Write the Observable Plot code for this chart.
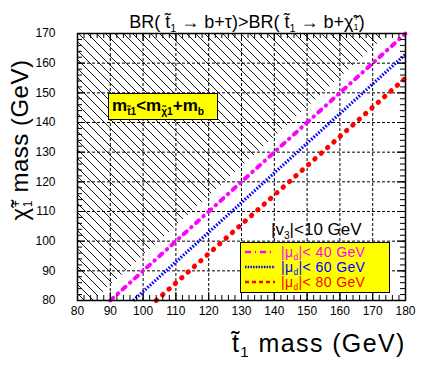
<!DOCTYPE html>
<html>
<head>
<meta charset="utf-8">
<script src="https://cdn.jsdelivr.net/npm/d3@7"></script>
<script src="https://cdn.jsdelivr.net/npm/@observablehq/plot@0.6"></script>
<style>
  html, body { margin: 0; padding: 0; background: #fff; }
  #wrap { position: relative; width: 432px; height: 382px; font-family: "Liberation Sans", Arial, sans-serif; }
  #wrap svg { position: absolute; left: 0; top: 0; }
  .ov { position: absolute; white-space: nowrap; color: #000; }
  .box { background: #ffff00; border: 1.5px solid #000; box-sizing: border-box; }
  .st { display: inline-block; vertical-align: middle; line-height: 1; text-align: left; }
  .st span { display: block; font-size: 0.5em; line-height: 1; }
  .sb { font-size: 0.6em; position: relative; top: 0.35em; line-height: 0; }
</style>
</head>
<body>
<div id="wrap"></div>
<script>
// ---- data ----
const xTicks = [80, 90, 100, 110, 120, 130, 140, 150, 160, 170, 180];
const yTicks = [80, 90, 100, 110, 120, 130, 140, 150, 160, 170];
// excluded region m_t1 < m_chi1 + m_b (boundary)
const hatchX = [80, 85, 175];
const hatchY = [80, 80, 170];
const hatchTop = 170;
// limit lines
const seriesNames = ["|μd| < 40 GeV", "|μd| < 60 GeV", "|μd| < 80 GeV"];
const seriesLimits = ["40", "60", "80"];
const seriesColors = ["#ff00ff", "#0000ff", "#ff0000"];
const lineX1 = [90, 97, 104];
const lineY1 = [80, 80, 80];
const lineX2 = [180, 180, 180];
const lineY2 = [170, 163, 155];
const seriesDash = ["4,6,0.5,6", "1.6,1.6", "0.5,8"];
const seriesCap = ["round", "butt", "round"];
const seriesWidth = [4, 3.2, 5];

const hatch = hatchX.map((x, i) => ({x, y1: hatchY[i], y2: hatchTop}));
const lines = seriesNames.map((name, i) => ({name, x1: lineX1[i], y1: lineY1[i], x2: lineX2[i], y2: lineY2[i]}));

const W = 432, H = 382, mL = 77, mR = 27, mT = 33, mB = 82;
const fw = W - mL - mR, fh = H - mT - mB;
const minorX = d3.range(80, 181, 2), minorY = d3.range(80, 171, 2);
const innerX = xTicks.slice(1, -1), innerY = yTicks.slice(1, -1);

const svg = Plot.plot({
  width: W, height: H,
  marginLeft: mL, marginRight: mR, marginTop: mT, marginBottom: mB,
  style: {fontFamily: "Liberation Sans, Arial, sans-serif", background: "white"},
  x: {domain: [80, 180], axis: null},
  y: {domain: [80, 170], axis: null},
  marks: [
    Plot.areaY(hatch, {x: "x", y1: "y1", y2: "y2", fill: "url(#hatch)"}),
    Plot.ruleX(innerX, {stroke: "#000", strokeWidth: 1, strokeDasharray: "3,2"}),
    Plot.ruleY(innerY, {stroke: "#000", strokeWidth: 1, strokeDasharray: "3,2"}),
    ...lines.map((d, i) => Plot.link([d], {x1: "x1", y1: "y1", x2: "x2", y2: "y2", stroke: seriesColors[i], strokeWidth: seriesWidth[i], strokeDasharray: seriesDash[i], strokeLinecap: seriesCap[i]})),
    // inward ticks
    Plot.tickX(minorX, {x: d => d, insetTop: fh - 5, stroke: "#000"}),
    Plot.tickX(minorX, {x: d => d, insetBottom: fh - 5, stroke: "#000"}),
    Plot.tickX(xTicks, {x: d => d, insetTop: fh - 8, stroke: "#000"}),
    Plot.tickX(xTicks, {x: d => d, insetBottom: fh - 8, stroke: "#000"}),
    Plot.tickY(minorY, {y: d => d, insetRight: fw - 5, stroke: "#000"}),
    Plot.tickY(minorY, {y: d => d, insetLeft: fw - 5, stroke: "#000"}),
    Plot.tickY(yTicks, {y: d => d, insetRight: fw - 8, stroke: "#000"}),
    Plot.tickY(yTicks, {y: d => d, insetLeft: fw - 8, stroke: "#000"}),
    Plot.frame({stroke: "#000", strokeWidth: 1.5}),
    Plot.axisX(xTicks, {tickSize: 0, tickPadding: 6, fontSize: 12, label: null, tickFormat: d => String(d)}),
    Plot.axisY(yTicks, {tickSize: 0, tickPadding: 22, fontSize: 12, label: null, tickFormat: d => String(d)})
  ]
});

// hatch pattern
const ns = "http://www.w3.org/2000/svg";
const defs = document.createElementNS(ns, "defs");
const pat = document.createElementNS(ns, "pattern");
pat.setAttribute("id", "hatch");
pat.setAttribute("patternUnits", "userSpaceOnUse");
pat.setAttribute("width", "9");
pat.setAttribute("height", "9");
const p = document.createElementNS(ns, "path");
p.setAttribute("d", "M-1,-1L10,10M-1,8L1,10M8,-1L10,1");
p.setAttribute("stroke", "#000");
p.setAttribute("stroke-width", "0.9");
pat.appendChild(p);
defs.appendChild(pat);
svg.insertBefore(defs, svg.firstChild);

const wrap = document.getElementById("wrap");
wrap.appendChild(svg);

function ov(html, css, cls = "ov") {
  const d = document.createElement("div");
  d.className = cls;
  d.innerHTML = html;
  Object.assign(d.style, css);
  wrap.appendChild(d);
  return d;
}
const sub = s => `<span class="sb">${s}</span>`;

// title
ov(`BR( t̃${sub("1")} → b+τ)&gt;BR( t̃${sub("1")} → b+χ̃<span class="st"><span>+</span><span>1</span></span>)`,
   {left: "247px", top: "12px", transform: "translateX(-50%)", fontSize: "18px", lineHeight: "20px"});

// x label
ov(`t̃${sub("1")} mass (GeV)`,
   {left: "232px", top: "329px", fontSize: "25px", lineHeight: "28px", letterSpacing: "1.4px"});

// y label
ov(`χ̃<span class="st"><span>+</span><span>1</span></span> mass (GeV)`,
   {left: "20px", top: "140px", transform: "translate(-50%,-50%) rotate(-90deg)", fontSize: "24px", lineHeight: "28px", letterSpacing: "0.5px"});

// excluded region box
ov(`m${sub("t̃1")}&lt;m${sub("χ̃1")}+m${sub("b")}`,
   {left: "108px", top: "93px", width: "110px", height: "27px", fontSize: "17px", fontWeight: "bold", lineHeight: "24px", paddingLeft: "3px"},
   "ov box");

// |v3| text
ov(`|v${sub("3")}|&lt;10 GeV`, {left: "271px", top: "220px", fontSize: "17px", lineHeight: "20px"});

// legend
const leg = ov("", {left: "240px", top: "242px", width: "150px", height: "51px"}, "ov box");
const legDash = ["6,4,1,4", "1.5,1.2", "4,3"];
seriesNames.forEach((name, i) => {
  const row = document.createElement("div");
  Object.assign(row.style, {position: "absolute", left: "0px", top: (2 + i * 15) + "px", height: "14px", width: "148px"});
  row.innerHTML = `<svg width="34" height="14" style="position:absolute;left:2px;top:0"><line x1="2" y1="7" x2="32" y2="7" stroke="${seriesColors[i]}" stroke-width="2.5" stroke-dasharray="${legDash[i]}"/></svg>` +
    `<span style="position:absolute;left:40px;top:0px;font-size:14px;line-height:14px;letter-spacing:0.4px;color:${seriesColors[i]}">|μ${sub("d")}|&lt; ${seriesLimits[i]} GeV</span>`;
  leg.appendChild(row);
});
</script>
</body>
</html>
